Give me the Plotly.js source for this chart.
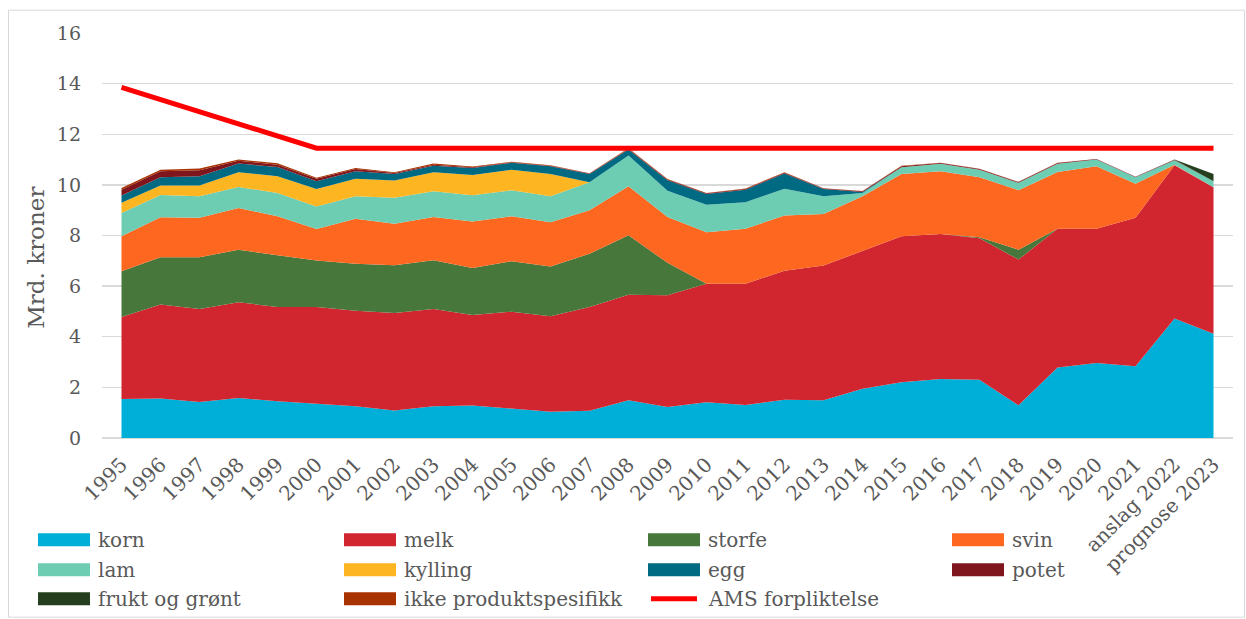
<!DOCTYPE html>
<html>
<head>
<meta charset="utf-8">
<script src="https://cdn.plot.ly/plotly-3.0.1.min.js"></script>
<style>
  html, body { margin: 0; padding: 0; background: #ffffff; }
  #chart { width: 1246px; height: 619px; }
</style>
</head>
<body>
<div id="chart"></div>
<script>
// ---- data (Mrd. kroner) ----
const years = ["1995","1996","1997","1998","1999","2000","2001","2002","2003","2004",
  "2005","2006","2007","2008","2009","2010","2011","2012","2013","2014",
  "2015","2016","2017","2018","2019","2020","2021","anslag 2022","prognose 2023"];

const korn    = [1.54,1.56,1.42,1.58,1.45,1.36,1.25,1.09,1.25,1.28,1.16,1.04,1.08,1.49,1.22,1.41,1.30,1.51,1.49,1.95,2.20,2.33,2.30,1.29,2.79,2.96,2.83,4.72,4.12];
const melk    = [3.24,3.71,3.68,3.78,3.73,3.82,3.78,3.85,3.85,3.58,3.83,3.77,4.10,4.17,4.42,4.68,4.79,5.10,5.32,5.45,5.77,5.73,5.59,5.76,5.48,5.31,5.87,6.06,5.79];
const storfe  = [1.81,1.87,2.04,2.08,2.04,1.83,1.85,1.88,1.92,1.86,1.99,1.97,2.10,2.35,1.28,0,0,0,0,0,0,0,0.04,0.39,0,0,0,0,0];
const svin    = [1.38,1.58,1.56,1.65,1.54,1.25,1.78,1.64,1.71,1.83,1.78,1.74,1.72,1.94,1.81,2.04,2.18,2.18,2.04,2.15,2.46,2.48,2.37,2.35,2.24,2.47,1.34,0.02,0];
const lam     = [0.92,0.88,0.85,0.83,0.92,0.89,0.89,1.03,1.02,1.04,1.03,1.03,1.10,1.21,1.04,1.08,1.04,1.06,0.70,0.13,0.27,0.29,0.30,0.29,0.32,0.26,0.26,0.17,0.23];
const kylling = [0.40,0.38,0.43,0.58,0.66,0.69,0.69,0.68,0.75,0.80,0.81,0.88,0,0,0,0,0,0,0,0,0,0,0,0,0,0,0,0,0];
const egg     = [0.29,0.32,0.36,0.34,0.37,0.30,0.30,0.26,0.26,0.28,0.27,0.31,0.33,0.24,0.41,0.43,0.50,0.60,0.29,0.04,0,0,0,0,0,0,0,0,0];
const potet   = [0.23,0.24,0.24,0.11,0.09,0.10,0.09,0.04,0.04,0.03,0.02,0.02,0.02,0.02,0.03,0.03,0.03,0.03,0.02,0.03,0.04,0.03,0.03,0.03,0.03,0.02,0.02,0.02,0];
const fruktOgGront = [0,0,0,0,0,0,0,0,0,0,0,0,0,0,0,0,0,0,0,0,0,0,0,0,0,0,0,0.01,0.29];
const ikkeProduktspesifikk = [0.07,0.06,0.07,0.05,0.05,0.04,0.04,0.03,0.04,0.03,0.02,0.02,0.01,0.03,0.02,0.01,0.02,0.02,0.01,0.01,0.02,0.01,0.01,0.01,0.01,0,0,0,0];
const amsForpliktelse = [13.85,13.37,12.89,12.41,11.93,11.45,11.45,11.45,11.45,11.45,11.45,11.45,11.45,11.45,11.45,11.45,11.45,11.45,11.45,11.45,11.45,11.45,11.45,11.45,11.45,11.45,11.45,11.45,11.45];

const seriesNames = ["korn","melk","storfe","svin","lam","kylling","egg","potet","frukt og grønt","ikke produktspesifikk"];
const seriesValues = [korn, melk, storfe, svin, lam, kylling, egg, potet, fruktOgGront, ikkeProduktspesifikk];
const seriesColors = ["#00AFD7","#D12530","#48773C","#FD6720","#6DCDB2","#FDB521","#006A82","#7F151D","#253F1E","#A83300"];
const lineName = "AMS forpliktelse";
const lineColor = "#FF0000";
const yTicks = [0,2,4,6,8,10,12,14,16];

// ---- layout geometry (pixels) ----
const W = 1246, H = 619;
const PL = 102, PR = 1233, PT = 33.3, PB = 438.3;
const px2x = p => (p - PL) / (PR - PL);
const px2y = p => (PB - p) / (PB - PT);
const FONT = "DejaVu Serif";
const TXT = "#595959";

const traces = seriesNames.map((n, i) => ({
  type: "scatter", mode: "lines", name: n,
  x: years, y: seriesValues[i],
  stackgroup: "one",
  line: { width: 0, color: seriesColors[i] },
  fillcolor: seriesColors[i],
  showlegend: false,
  hoverinfo: "x+y+name"
}));
traces.push({
  type: "scatter", mode: "lines", name: lineName,
  x: years, y: amsForpliktelse,
  line: { width: 5, color: lineColor },
  showlegend: false
});

// ---- custom legend ----
const legendCols = [38, 344, 648, 952];
const legendRows = [540, 570, 599];
const shapes = [];
const annotations = [];
const legendItems = seriesNames.map((n, i) => ({ name: n, color: seriesColors[i], kind: "box" }));
legendItems.push({ name: lineName, color: lineColor, kind: "line" });
legendItems.forEach((it, k) => {
  const cx = legendCols[k % 4], cy = legendRows[Math.floor(k / 4)];
  if (it.kind === "box") {
    shapes.push({ type: "rect", xref: "paper", yref: "paper",
      x0: px2x(cx), x1: px2x(cx + 52), y0: px2y(cy + 6.5), y1: px2y(cy - 6.5),
      fillcolor: it.color, line: { width: 0 } });
  } else {
    shapes.push({ type: "line", xref: "paper", yref: "paper",
      x0: px2x(cx + 3), x1: px2x(cx + 49), y0: px2y(cy), y1: px2y(cy),
      line: { color: it.color, width: 5 } });
  }
  annotations.push({ xref: "paper", yref: "paper", x: px2x(cx + 58), y: px2y(cy),
    xanchor: "left", yanchor: "middle", showarrow: false, text: it.name,
    font: { family: FONT, size: 20, color: TXT } });
});
// outer chart border
shapes.push({ type: "rect", xref: "paper", yref: "paper",
  x0: px2x(8.5), x1: px2x(1244.5), y0: px2y(617.5), y1: px2y(10.5),
  line: { color: "#D9D9D9", width: 1 }, fillcolor: "rgba(0,0,0,0)", layer: "below" });
// y-axis title
annotations.push({ xref: "paper", yref: "paper", x: px2x(36), y: px2y(258),
  xanchor: "center", yanchor: "middle", showarrow: false, textangle: -90,
  text: "Mrd. kroner", font: { family: FONT, size: 23, color: TXT } });

const layout = {
  width: W, height: H,
  margin: { l: PL, r: W - PR, t: PT, b: H - PB, pad: 0 },
  paper_bgcolor: "#ffffff", plot_bgcolor: "#ffffff",
  showlegend: false,
  font: { family: FONT, color: TXT },
  xaxis: {
    type: "category", range: [-0.5, years.length - 0.5],
    tickangle: -45, tickfont: { family: FONT, size: 20, color: TXT },
    showgrid: false, zeroline: false, showline: false, ticks: "",
    ticklabelstandoff: 10,
    fixedrange: true
  },
  yaxis: {
    range: [0, 16], tickvals: yTicks, ticktext: yTicks.map(String),
    tickfont: { family: FONT, size: 19, color: TXT },
    showgrid: true, gridcolor: "#D9D9D9", gridwidth: 1.3,
    zeroline: true, zerolinecolor: "#D9D9D9", zerolinewidth: 1.5,
    showline: false, ticks: "", ticklabelstandoff: 20,
    fixedrange: true
  },
  shapes: shapes,
  annotations: annotations
};

Plotly.newPlot("chart", traces, layout, { displayModeBar: false, staticPlot: true });
</script>
</body>
</html>
